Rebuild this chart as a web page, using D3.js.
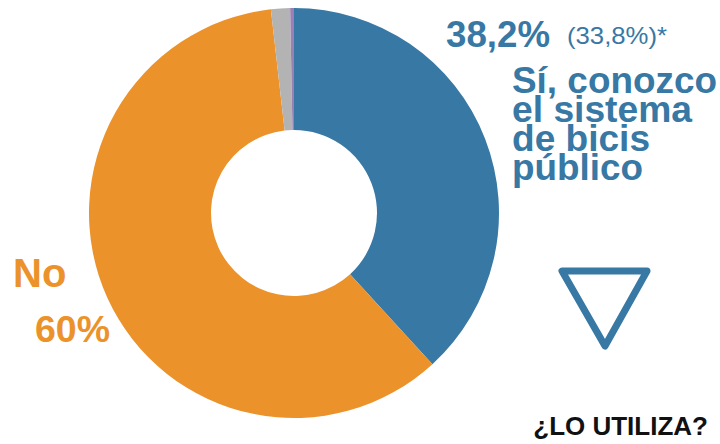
<!DOCTYPE html>
<html>
<head>
<meta charset="utf-8">
<script src="https://cdn.jsdelivr.net/npm/d3@7"></script>
<style>
  body { margin: 0; background: #fff; }
  text { font-family: "Liberation Sans", Arial, sans-serif; }
</style>
</head>
<body>
<svg></svg>
<script>
// answers, clockwise from 12 o'clock
const categories = ['Sí', 'No', 'NS/NC', 'Otro'];
const values = [38.2, 60, 1.5, 0.3];
const colors = ['#3878a4', '#ec922b', '#b3b3b3', '#9b80b6'];

const siLines = ['Sí, conozco', 'el sistema', 'de bicis', 'público'];
const siLineWidths = [205, 180, 138, 131];

const width = 720;
const height = 444;

const svg = d3.select('svg')
  .attr('width', width)
  .attr('height', height);

const cx = 294;
const cy = 213;
const outer = 205;
const inner = 83;

const pie = d3.pie()
  .sort(null)
  .value(d => d.value);

const arc = d3.arc()
  .innerRadius(inner)
  .outerRadius(outer);

const data = categories.map((c, i) => ({ name: c, value: values[i], color: colors[i] }));

svg.append('g')
  .attr('transform', `translate(${cx},${cy})`)
  .selectAll('path')
  .data(pie(data))
  .enter()
  .append('path')
  .attr('d', arc)
  .attr('fill', d => d.data.color);

// labels for "Sí"
const blue = colors[0];
const orange = colors[1];

svg.append('text')
  .attr('x', 446)
  .attr('y', 47)
  .attr('fill', blue)
  .attr('font-size', 36)
  .attr('font-weight', 'bold')
  .attr('textLength', 104)
  .attr('lengthAdjust', 'spacingAndGlyphs')
  .text(values[0].toString().replace('.', ',') + '%');

svg.append('text')
  .attr('x', 567)
  .attr('y', 44)
  .attr('fill', blue)
  .attr('font-size', 24)
  .attr('textLength', 100)
  .attr('lengthAdjust', 'spacingAndGlyphs')
  .text('(33,8%)*');

svg.append('g')
  .attr('fill', blue)
  .attr('font-size', 36)
  .attr('font-weight', 'bold')
  .selectAll('text')
  .data(siLines)
  .enter()
  .append('text')
  .attr('x', 512)
  .attr('y', (d, i) => 93 + i * 29)
  .attr('textLength', (d, i) => siLineWidths[i])
  .attr('lengthAdjust', 'spacingAndGlyphs')
  .text(d => d);

// labels for "No"
svg.append('text')
  .attr('x', 13)
  .attr('y', 287)
  .attr('fill', orange)
  .attr('font-size', 40)
  .attr('font-weight', 'bold')
  .text('No');

svg.append('text')
  .attr('x', 35)
  .attr('y', 342)
  .attr('fill', orange)
  .attr('font-size', 36)
  .attr('font-weight', 'bold')
  .attr('textLength', 75)
  .attr('lengthAdjust', 'spacingAndGlyphs')
  .text(values[1] + '%');

// down arrow
svg.append('path')
  .attr('d', d3.line()([[562, 271], [647, 271], [605, 346]]) + 'Z')
  .attr('fill', 'none')
  .attr('stroke', blue)
  .attr('stroke-width', 7)
  .attr('stroke-linejoin', 'round');

svg.append('text')
  .attr('x', 708)
  .attr('y', 435)
  .attr('text-anchor', 'end')
  .attr('fill', '#111')
  .attr('font-size', 26)
  .attr('font-weight', 'bold')
  .text('¿LO UTILIZA?');
</script>
</body>
</html>
